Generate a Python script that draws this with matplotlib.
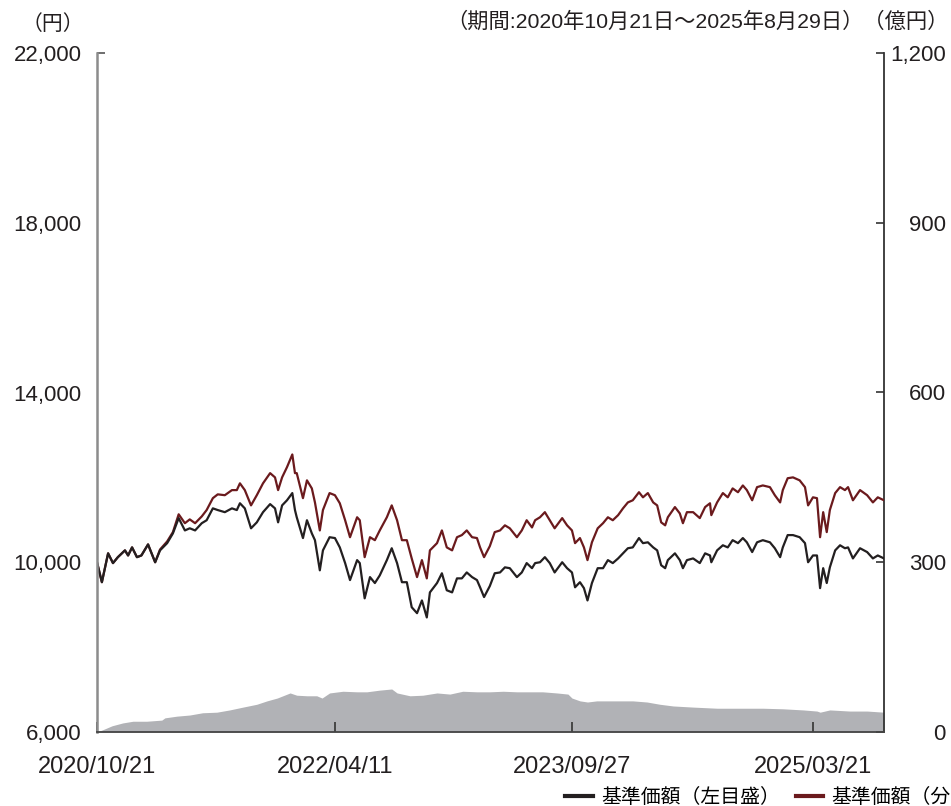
import matplotlib
matplotlib.use("Agg")
import matplotlib.pyplot as plt
import pandas as pd

plt.rcParams['font.family'] = ['Liberation Sans', 'Noto Sans CJK JP', 'DejaVu Sans']

# 基準価額 / 基準価額（分配金再投資） (円)
nav_dates = [
    '2020-10-21', '2020-11-01', '2020-11-15', '2020-11-26', '2020-12-07', '2020-12-23', '2020-12-30',
    '2021-01-08', '2021-01-19', '2021-01-29', '2021-02-13', '2021-03-01', '2021-03-12', '2021-03-28',
    '2021-04-10', '2021-04-23', '2021-05-07', '2021-05-18', '2021-05-30', '2021-06-14', '2021-06-25',
    '2021-07-09', '2021-07-20', '2021-08-05', '2021-08-21', '2021-09-01', '2021-09-08', '2021-09-19',
    '2021-10-03', '2021-10-16', '2021-10-30', '2021-11-15', '2021-11-26', '2021-12-03', '2021-12-12',
    '2021-12-23', '2022-01-04', '2022-01-10', '2022-01-14', '2022-01-28', '2022-02-06', '2022-02-17',
    '2022-02-24', '2022-03-07', '2022-03-14', '2022-03-29', '2022-04-10', '2022-04-21', '2022-05-03',
    '2022-05-14', '2022-05-30', '2022-06-05', '2022-06-16', '2022-06-28', '2022-07-09', '2022-07-20',
    '2022-08-05', '2022-08-16', '2022-08-28', '2022-09-08', '2022-09-19', '2022-09-30', '2022-10-12',
    '2022-10-23', '2022-11-03', '2022-11-10', '2022-11-26', '2022-12-07', '2022-12-18', '2022-12-30',
    '2023-01-10', '2023-01-21', '2023-02-01', '2023-02-13', '2023-02-24', '2023-03-03', '2023-03-12',
    '2023-03-25', '2023-04-05', '2023-04-17', '2023-04-28', '2023-05-09', '2023-05-25', '2023-06-05',
    '2023-06-16', '2023-06-28', '2023-07-05', '2023-07-16', '2023-07-27', '2023-08-07', '2023-08-18',
    '2023-09-04', '2023-09-15', '2023-09-26', '2023-10-03', '2023-10-14', '2023-10-23', '2023-10-31',
    '2023-11-10', '2023-11-23', '2023-12-05', '2023-12-16', '2023-12-27', '2024-01-08', '2024-01-19',
    '2024-01-30', '2024-02-10', '2024-02-24', '2024-03-04', '2024-03-15', '2024-03-27', '2024-04-05',
    '2024-04-14', '2024-04-23', '2024-04-29', '2024-05-15', '2024-05-26', '2024-06-02', '2024-06-11',
    '2024-06-25', '2024-07-10', '2024-07-22', '2024-08-02', '2024-08-05', '2024-08-18', '2024-08-31',
    '2024-09-11', '2024-09-22', '2024-10-04', '2024-10-15', '2024-10-24', '2024-11-05', '2024-11-16',
    '2024-11-29', '2024-12-15', '2024-12-26', '2025-01-07', '2025-01-13', '2025-01-24', '2025-02-05',
    '2025-02-20', '2025-03-04', '2025-03-11', '2025-03-22', '2025-03-31', '2025-04-07', '2025-04-14',
    '2025-04-22', '2025-04-29', '2025-05-11', '2025-05-22', '2025-06-02', '2025-06-09', '2025-06-20',
    '2025-07-06', '2025-07-22', '2025-08-04', '2025-08-15', '2025-08-29',
]
nav = [
    10000, 9530, 10210, 9980, 10120, 10280, 10160,
    10350, 10120, 10160, 10420, 10000, 10280, 10450,
    10680, 11040, 10750, 10800, 10750, 10920, 10990,
    11270, 11230, 11180, 11270, 11230, 11390, 11270,
    10800, 10940, 11180, 11370, 11270, 10940, 11340,
    11460, 11630, 11230, 11060, 10570, 10990, 10680,
    10520, 9810, 10280, 10590, 10570, 10350, 9980,
    9580, 10050, 9980, 9150, 9650, 9510, 9690,
    10050, 10330, 9980, 9530, 9530, 8940, 8800,
    9100, 8700, 9290, 9510, 9740, 9340, 9290,
    9620, 9620, 9760, 9650, 9580, 9410, 9180,
    9440, 9740, 9760, 9880, 9860, 9650, 9760,
    9980, 9860, 9980, 10000, 10120, 9980, 9760,
    10000, 9860, 9760, 9410, 9530, 9390, 9100,
    9510, 9860, 9860, 10050, 9980, 10090, 10210,
    10330, 10350, 10570, 10450, 10470, 10350, 10280,
    9930, 9860, 10050, 10210, 10050, 9860, 10050,
    10090, 9980, 10210, 10160, 10000, 10280, 10400,
    10350, 10520, 10450, 10570, 10470, 10240, 10470,
    10520, 10470, 10330, 10120, 10350, 10640, 10640,
    10590, 10450, 10000, 10160, 10160, 9390, 9860,
    9510, 9880, 10280, 10400, 10330, 10350, 10090,
    10330, 10240, 10090, 10160, 10090,
]
nav_reinv = [
    10000, 9530, 10210, 9980, 10120, 10280, 10160,
    10350, 10120, 10160, 10420, 10000, 10300, 10490,
    10710, 11130, 10920, 11010, 10920, 11080, 11230,
    11510, 11600, 11580, 11700, 11700, 11860, 11700,
    11340, 11580, 11860, 12100, 12000, 11700, 12000,
    12240, 12540, 12100, 12100, 11510, 11930, 11740,
    11410, 10750, 11230, 11630, 11580, 11390, 10990,
    10590, 11060, 10990, 10120, 10590, 10520, 10750,
    11060, 11340, 10990, 10520, 10520, 10090, 9650,
    10050, 9620, 10280, 10450, 10750, 10350, 10280,
    10590, 10640, 10750, 10590, 10570, 10350, 10120,
    10380, 10710, 10750, 10870, 10800, 10590, 10750,
    10990, 10820, 10990, 11060, 11180, 10990, 10800,
    11040, 10870, 10750, 10450, 10570, 10350, 10050,
    10470, 10800, 10920, 11060, 10990, 11110, 11270,
    11410, 11460, 11650, 11530, 11630, 11410, 11340,
    10940, 10870, 11060, 11300, 11150, 10920, 11180,
    11180, 11040, 11300, 11390, 11110, 11410, 11630,
    11530, 11740, 11650, 11810, 11700, 11460, 11770,
    11810, 11770, 11580, 11410, 11700, 11980, 12000,
    11930, 11770, 11340, 11530, 11510, 10590, 11180,
    10710, 11230, 11630, 11770, 11700, 11770, 11460,
    11700, 11580, 11410, 11530, 11460,
]

# 純資産総額 (億円)
aum_dates = [
    '2020-10-21', '2020-11-03', '2020-11-24', '2020-12-18', '2021-01-10', '2021-02-10', '2021-03-16',
    '2021-03-23', '2021-04-19', '2021-05-18', '2021-06-16', '2021-07-18', '2021-08-16', '2021-09-15',
    '2021-10-16', '2021-11-08', '2021-12-01', '2021-12-30', '2022-01-14', '2022-02-06', '2022-02-28',
    '2022-03-12', '2022-03-29', '2022-04-28', '2022-05-30', '2022-06-21', '2022-07-20', '2022-08-16',
    '2022-08-28', '2022-09-26', '2022-10-25', '2022-11-26', '2022-12-25', '2023-01-23', '2023-02-24',
    '2023-03-25', '2023-04-24', '2023-05-25', '2023-06-30', '2023-07-22', '2023-08-23', '2023-09-17',
    '2023-09-26', '2023-10-14', '2023-10-31', '2023-11-21', '2023-12-27', '2024-02-10', '2024-03-13',
    '2024-04-11', '2024-05-11', '2024-06-25', '2024-08-18', '2024-10-09', '2024-11-29', '2025-01-13',
    '2025-02-28', '2025-03-31', '2025-04-07', '2025-04-29', '2025-06-13', '2025-07-22', '2025-08-29',
]
aum = [
    0, 4, 11, 16, 19, 19, 21,
    25, 28, 30, 34, 35, 39, 44,
    49, 55, 60, 69, 65, 64, 64,
    60, 69, 72, 71, 71, 74, 76,
    69, 64, 65, 69, 67, 72, 71,
    71, 72, 71, 71, 71, 69, 67,
    60, 55, 53, 55, 55, 55, 53,
    49, 46, 44, 42, 42, 42, 41,
    39, 37, 35, 39, 37, 37, 35,
]

x_ticks = ['2020-10-21', '2022-04-11', '2023-09-27', '2025-03-21']
x_labels = ['2020/10/21', '2022/04/11', '2023/09/27', '2025/03/21']
y_left = [6000, 10000, 14000, 18000, 22000]
y_right = [0, 300, 600, 900, 1200]

W, H = 951, 806
fig = plt.figure(figsize=(W / 100, H / 100), dpi=100)
ax = fig.add_axes([97 / W, 1 - 732 / H, 787 / W, 679 / H])
ax2 = ax.twinx()
ax.set_zorder(ax2.get_zorder() + 1)
ax.patch.set_visible(False)

d_nav = pd.to_datetime(nav_dates)
area = ax2.fill_between(pd.to_datetime(aum_dates), aum, color='#b1b2b6', lw=0)
l_red, = ax.plot(d_nav, nav_reinv, color='#6b1a1d', lw=1.6)
l_blk, = ax.plot(d_nav, nav, color='#231f20', lw=1.6)

ax.set_xlim(pd.Timestamp('2020-10-21'), pd.Timestamp('2025-08-29'))
ax.set_ylim(6000, 22000)
ax2.set_ylim(0, 1200)

for s in ['top', 'right']:
    ax.spines[s].set_visible(False)
for s in ['top', 'left', 'bottom']:
    ax2.spines[s].set_visible(False)
ax.spines['left'].set_color('#8c8c8c')
ax.spines['left'].set_linewidth(1.8)
ax.spines['bottom'].set_color('#444444')
ax.spines['bottom'].set_linewidth(1.3)
ax2.spines['right'].set_color('#333333')
ax2.spines['right'].set_linewidth(1.3)

ax.set_xticks(pd.to_datetime(x_ticks))
ax.set_xticklabels(x_labels)
ax.tick_params(axis='x', direction='in', length=7, width=1.2, color='#333333',
               labelsize=17, pad=17, labelcolor='#231f20')

ax.set_yticks(y_left)
ax.set_yticklabels([f'{v:,}' for v in y_left])
ax.tick_params(axis='y', direction='in', length=6, width=1.2, color='#555555',
               labelsize=16, pad=11, labelcolor='#231f20')
for i, t in enumerate(ax.yaxis.get_major_ticks()):
    t.tick1line.set_visible(i == len(y_left) - 1)

ax2.set_yticks(y_right)
ax2.set_yticklabels([f'{v:,}' for v in y_right])
ax2.tick_params(axis='y', direction='in', length=6, width=1.2, color='#333333',
                labelsize=16, pad=44.5, labelcolor='#231f20')
for lab in ax2.get_yticklabels():
    lab.set_horizontalalignment('right')

fig.text(84 / W, 1 - 24 / H, '（円）', ha='right', va='center', fontsize=15, color='#231f20')
fig.text(949 / W, 1 - 22 / H, '（期間:2020年10月21日～2025年8月29日）（億円）',
         ha='right', va='center', fontsize=15.3, color='#231f20')

leg = fig.legend([l_blk, l_red, area],
                 ['基準価額（左目盛）', '基準価額（分配金再投資）（左目盛）', '純資産総額（右目盛）'],
                 loc='center left', bbox_to_anchor=(565 / W, 1 - 797 / H), ncol=3,
                 frameon=False, fontsize=14.3, handlelength=1.4, handletextpad=0.4,
                 columnspacing=0.8, borderpad=0, borderaxespad=0)
for h in leg.legend_handles[:2]:
    h.set_linewidth(3)

fig.savefig('out.png', dpi=100)
